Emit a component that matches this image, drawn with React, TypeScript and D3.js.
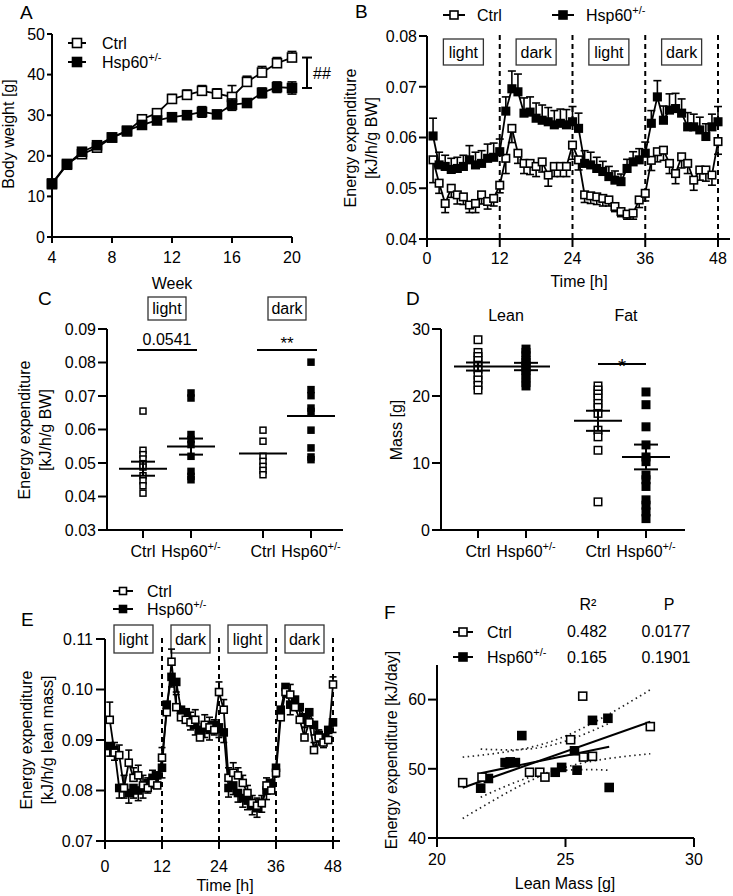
import React from 'react';
import * as d3 from 'd3';

const FONT = "'Liberation Sans', Arial, Helvetica, sans-serif";
const LETTER_FONT = "'Liberation Sans', Arial, sans-serif";

// ---------- Panel A: body weight ----------
const weeksA = [4, 5, 6, 7, 8, 9, 10, 11, 12, 13, 14, 15, 16, 17, 18, 19, 20];
const bwCtrl = [13.2, 18.0, 20.4, 22.0, 24.5, 26.0, 29.0, 30.5, 34.0, 35.0, 36.0, 35.3, 34.5, 38.2, 40.5, 42.8, 44.2];
const bwCtrlSem = [0.5, 0.6, 0.6, 0.7, 0.7, 0.8, 0.9, 1.0, 1.1, 1.2, 1.3, 1.2, 2.8, 1.4, 1.5, 1.4, 1.5];
const bwHsp = [13.0, 17.8, 21.0, 22.6, 24.5, 26.2, 27.6, 28.7, 29.5, 30.0, 30.8, 30.2, 32.6, 33.0, 35.5, 36.9, 36.7];
const bwHspSem = [0.5, 0.6, 0.6, 0.7, 0.7, 0.8, 0.8, 0.9, 0.8, 1.0, 1.3, 0.9, 1.4, 1.0, 1.2, 1.3, 1.5];
const weekTicks = [4, 8, 12, 16, 20];
const bwTicks = [0, 10, 20, 30, 40, 50];

// ---------- Panel B: energy expenditure per g BW ----------
const hoursB = d3.range(1, 49);
const eeCtrl = [
  0.0556, 0.0510, 0.0470, 0.0500, 0.0487, 0.0483, 0.0467, 0.0470, 0.0487, 0.0474, 0.0480, 0.0506,
  0.0559, 0.0618, 0.0569, 0.0549, 0.0549, 0.0543, 0.0552, 0.0526, 0.0543, 0.0543, 0.0543, 0.0585,
  0.0556, 0.0487, 0.0485, 0.0483, 0.0480, 0.0477, 0.0464, 0.0454, 0.0449, 0.0451, 0.0477, 0.0490,
  0.0555, 0.0572, 0.0575, 0.0549, 0.0529, 0.0562, 0.0549, 0.0516, 0.0536, 0.0536, 0.0526, 0.0592];
const eeCtrlSem = [
  0.0045, 0.0020, 0.0018, 0.0018, 0.0018, 0.0015, 0.0015, 0.0018, 0.0018, 0.0015, 0.0015, 0.0015,
  0.0030, 0.0028, 0.0020, 0.0020, 0.0022, 0.0020, 0.0020, 0.0022, 0.0020, 0.0020, 0.0020, 0.0028,
  0.0020, 0.0015, 0.0015, 0.0015, 0.0015, 0.0012, 0.0010, 0.0010, 0.0010, 0.0012, 0.0015, 0.0015,
  0.0020, 0.0020, 0.0020, 0.0020, 0.0020, 0.0022, 0.0020, 0.0020, 0.0020, 0.0022, 0.0020, 0.0025];
const eeHsp = [
  0.0603, 0.0546, 0.0543, 0.0537, 0.0539, 0.0543, 0.0556, 0.0546, 0.0549, 0.0559, 0.0561, 0.0572,
  0.0652, 0.0696, 0.0690, 0.0648, 0.0650, 0.0638, 0.0634, 0.0631, 0.0625, 0.0628, 0.0625, 0.0631,
  0.0618, 0.0549, 0.0546, 0.0539, 0.0533, 0.0523, 0.0516, 0.0513, 0.0539, 0.0552, 0.0556, 0.0569,
  0.0628, 0.0680, 0.0634, 0.0654, 0.0657, 0.0648, 0.0621, 0.0621, 0.0615, 0.0602, 0.0621, 0.0631];
const eeHspSem = [
  0.0035, 0.0025, 0.0022, 0.0022, 0.0022, 0.0022, 0.0028, 0.0025, 0.0025, 0.0028, 0.0028, 0.0025,
  0.0028, 0.0035, 0.0035, 0.0030, 0.0030, 0.0030, 0.0030, 0.0028, 0.0028, 0.0028, 0.0030, 0.0030,
  0.0030, 0.0025, 0.0025, 0.0022, 0.0020, 0.0020, 0.0018, 0.0015, 0.0018, 0.0020, 0.0022, 0.0022,
  0.0025, 0.0032, 0.0028, 0.0032, 0.0030, 0.0028, 0.0028, 0.0025, 0.0025, 0.0025, 0.0025, 0.0030];
const timeTicks = [0, 12, 24, 36, 48];
const phaseBounds = [12, 24, 36, 48];
const phaseCenters = [6, 18, 30, 42];
const phaseNames = ['light', 'dark', 'light', 'dark'];
const eeTicksB = [0.04, 0.05, 0.06, 0.07, 0.08];

// ---------- Panel C: mean EE per phase ----------
const cLightCtrl = [0.0655, 0.0538, 0.0525, 0.0512, 0.0498, 0.0488, 0.0462, 0.0447, 0.0432, 0.0410];
const cLightHsp = [0.0709, 0.0694, 0.0585, 0.0570, 0.0555, 0.0520, 0.0475, 0.0460, 0.0450];
const cDarkCtrl = [0.0598, 0.0565, 0.0520, 0.0505, 0.0490, 0.0478, 0.0465];
const cDarkHsp = [0.0801, 0.0719, 0.0701, 0.0664, 0.0654, 0.0598, 0.0545, 0.0518, 0.0510];
const cMeans = [0.0483, 0.0549, 0.0528, 0.0640];
const cSems = [0.0021, 0.0024, 0, 0];
const cTicks = [0.03, 0.04, 0.05, 0.06, 0.07, 0.08, 0.09];
const cPhases = ['light', 'dark'];
const cStats = ['0.0541', '**'];

// ---------- Panel D: body composition ----------
const dLeanCtrl = [28.4, 26.5, 25.9, 25.3, 24.6, 24.0, 23.1, 22.4, 21.6, 20.9];
const dLeanHsp = [27.0, 26.5, 26.0, 25.3, 25.0, 24.6, 24.2, 23.8, 23.3, 22.7, 22.0, 21.5];
const dFatCtrl = [21.5, 20.9, 20.3, 19.7, 18.9, 18.3, 17.4, 14.9, 13.9, 11.9, 4.2];
const dFatHsp = [20.6, 18.7, 15.4, 12.7, 10.9, 10.2, 8.2, 7.5, 6.5, 4.5, 3.7, 2.7, 1.7];
const dMeans = [24.4, 24.4, 16.3, 10.9];
const dSems = [0.6, 0.55, 1.5, 1.85];
const dTicks = [0, 10, 20, 30];
const dGroups = ['Lean', 'Fat'];

// ---------- Panel E: EE per g lean mass ----------
const eeLeanCtrl = [
  0.0940, 0.0875, 0.0870, 0.0805, 0.0855, 0.0825, 0.0830, 0.0810, 0.0805, 0.0815, 0.0810, 0.0865,
  0.0955, 0.1055, 0.0965, 0.0945, 0.0940, 0.0935, 0.0940, 0.0905, 0.0930, 0.0925, 0.0920, 0.0995,
  0.0960, 0.0825, 0.0835, 0.0830, 0.0815, 0.0795, 0.0775, 0.0770, 0.0775, 0.0810, 0.0800, 0.0835,
  0.0945, 0.0995, 0.0990, 0.0965, 0.0940, 0.0905, 0.0935, 0.0880, 0.0905, 0.0895, 0.0900, 0.1010];
const eeLeanCtrlSem = [
  0.0035, 0.0020, 0.0020, 0.0025, 0.0025, 0.0020, 0.0020, 0.0020, 0.0020, 0.0025, 0.0020, 0.0020,
  0.0020, 0.0025, 0.0025, 0.0020, 0.0020, 0.0020, 0.0020, 0.0020, 0.0020, 0.0020, 0.0020, 0.0020,
  0.0020, 0.0020, 0.0020, 0.0015, 0.0015, 0.0015, 0.0015, 0.0015, 0.0015, 0.0015, 0.0015, 0.0015,
  0.0020, 0.0015, 0.0020, 0.0020, 0.0020, 0.0020, 0.0015, 0.0015, 0.0015, 0.0015, 0.0015, 0.0015];
const eeLeanHsp = [
  0.0888, 0.0880, 0.0805, 0.0805, 0.0795, 0.0805, 0.0800, 0.0805, 0.0815, 0.0825, 0.0830, 0.0845,
  0.0970, 0.1025, 0.1015, 0.0960, 0.0955, 0.0940, 0.0930, 0.0920, 0.0925, 0.0920, 0.0930, 0.0925,
  0.0915, 0.0805, 0.0810, 0.0795, 0.0785, 0.0780, 0.0770, 0.0765, 0.0775, 0.0800, 0.0815, 0.0845,
  0.0960, 0.1005, 0.0970, 0.0980, 0.0965, 0.0945, 0.0955, 0.0930, 0.0910, 0.0905, 0.0920, 0.0935];
const eeLeanHspSem = [
  0.0020, 0.0020, 0.0020, 0.0020, 0.0020, 0.0020, 0.0020, 0.0020, 0.0020, 0.0020, 0.0020, 0.0020,
  0.0020, 0.0020, 0.0020, 0.0020, 0.0020, 0.0020, 0.0020, 0.0020, 0.0020, 0.0020, 0.0020, 0.0020,
  0.0020, 0.0018, 0.0018, 0.0018, 0.0018, 0.0018, 0.0018, 0.0018, 0.0018, 0.0018, 0.0018, 0.0018,
  0.0020, 0.0020, 0.0020, 0.0020, 0.0020, 0.0020, 0.0020, 0.0020, 0.0020, 0.0020, 0.0020, 0.0020];
const eeTicksE = [0.07, 0.08, 0.09, 0.10, 0.11];

// ---------- Panel F: regression ----------
const fCtrlLean = [21.0, 21.75, 23.6, 24.0, 24.2, 25.2, 25.67, 25.7, 26.05, 28.3];
const fCtrlEE = [48.0, 48.8, 49.5, 49.5, 48.8, 54.2, 60.5, 51.7, 51.8, 56.1];
const fHspLean = [21.7, 22.0, 22.65, 22.85, 23.05, 23.3, 24.6, 24.85, 25.35, 25.45, 26.05, 26.65, 26.7];
const fHspEE = [47.2, 48.6, 50.9, 51.0, 50.9, 54.8, 49.5, 50.2, 52.6, 49.8, 57.0, 57.3, 47.3];
const fR2 = ['0.482', '0.165'];
const fP = ['0.0177', '0.1901'];
const fTicksX = [20, 25, 30];
const fTicksY = [40, 50, 60];
const tCrit = [2.306, 2.201]; // df = 8, 11

// ---------- helpers ----------
const K = '#000';

function Sq({ x, y, s, filled, sw = 1.6 }: any) {
  return (
    <rect x={x - s / 2} y={y - s / 2} width={s} height={s}
      fill={filled ? K : '#fff'} stroke={K} strokeWidth={sw} />
  );
}

function Hsp({ x, y, size = 16, anchor = 'start', sup = 11 }: any) {
  return (
    <text x={x} y={y} fontSize={size} textAnchor={anchor} fontFamily={FONT} fill={K}>
      Hsp60<tspan dy={-size * 0.42} fontSize={sup}>+/-</tspan>
    </text>
  );
}

function LeftAxis({ scale, x, ticks, fmt, fs = 16, tl = 8, gap = 2 }: any) {
  const [r0, r1] = scale.range();
  return (
    <g>
      {ticks.map((t: number) => (
        <g key={t}>
          <line x1={x - tl} x2={x} y1={scale(t)} y2={scale(t)} stroke={K} strokeWidth={2} />
          <text x={x - tl - gap} y={scale(t)} dy="0.36em" textAnchor="end" fontSize={fs} fontFamily={FONT}>
            {fmt(t)}
          </text>
        </g>
      ))}
      <line x1={x} x2={x} y1={r0 + 1} y2={r1} stroke={K} strokeWidth={2} />
    </g>
  );
}

function BottomAxis({ scale, y, x0, x1, ticks, fmt, fs = 16, tl = 8, labelY }: any) {
  return (
    <g>
      <line x1={x0 - 1} x2={x1} y1={y} y2={y} stroke={K} strokeWidth={2} />
      {ticks.map((t: number) => (
        <g key={t}>
          <line x1={scale(t)} x2={scale(t)} y1={y} y2={y + tl} stroke={K} strokeWidth={2} />
          {fmt && (
            <text x={scale(t)} y={labelY} textAnchor="middle" fontSize={fs} fontFamily={FONT}>
              {fmt(t)}
            </text>
          )}
        </g>
      ))}
    </g>
  );
}

function YTitle({ x, y, lines, fs = 16, lh = 21 }: any) {
  return (
    <g>
      {lines.map((l: string, i: number) => (
        <text key={i} transform={`translate(${x + i * lh},${y}) rotate(-90)`} textAnchor="middle"
          fontSize={fs} fontFamily={FONT}>{l}</text>
      ))}
    </g>
  );
}

function Letter({ x, y, t }: any) {
  return <text x={x} y={y} fontSize={19} fontFamily={LETTER_FONT}>{t}</text>;
}

function LegendItem({ x, y, filled, label, w = 20, s = 8, fs = 16, gap = 13 }: any) {
  return (
    <g>
      <line x1={x} x2={x + w} y1={y} y2={y} stroke={K} strokeWidth={2} />
      <Sq x={x + w / 2} y={y} s={s} filled={filled} />
      {label === 'Hsp' ? <Hsp x={x + w + gap} y={y + 6} size={fs} /> :
        <text x={x + w + gap} y={y + 6} fontSize={fs} fontFamily={FONT}>{label}</text>}
    </g>
  );
}

function Series({ xs, ys, sems, x, y, filled, s, dir, cap = 4, sw = 1.8 }: any) {
  const line = d3.line<number>().x((_, i) => x(xs[i])).y(d => y(d));
  return (
    <g>
      <path d={line(ys) || ''} fill="none" stroke={K} strokeWidth={sw} />
      {ys.map((v: number, i: number) => {
        const e = sems[i] ?? 0;
        const cx = x(xs[i]);
        const els: any[] = [];
        if (dir === 'up' || dir === 'both') {
          els.push(<line key="u" x1={cx} x2={cx} y1={y(v)} y2={y(v + e)} stroke={K} strokeWidth={1.6} />);
          els.push(<line key="uc" x1={cx - cap} x2={cx + cap} y1={y(v + e)} y2={y(v + e)} stroke={K} strokeWidth={1.6} />);
        }
        if (dir === 'down' || dir === 'both') {
          els.push(<line key="d" x1={cx} x2={cx} y1={y(v)} y2={y(v - e)} stroke={K} strokeWidth={1.6} />);
          els.push(<line key="dc" x1={cx - cap} x2={cx + cap} y1={y(v - e)} y2={y(v - e)} stroke={K} strokeWidth={1.6} />);
        }
        return <g key={i}>{els}</g>;
      })}
      {ys.map((v: number, i: number) => (
        <Sq key={'m' + i} x={x(xs[i])} y={y(v)} s={s} filled={filled} />
      ))}
    </g>
  );
}

function PhaseBox({ cx, y0, h, w, label, fs }: any) {
  return (
    <g>
      <rect x={cx - w / 2} y={y0} width={w} height={h} fill="#fff" stroke="#333" strokeWidth={1.3} />
      <text x={cx} y={y0 + h / 2} dy="0.36em" textAnchor="middle" fontSize={fs} fontFamily={FONT}>{label}</text>
    </g>
  );
}

// ---------- Panels ----------
function PanelA() {
  const x = d3.scaleLinear().domain([4, 20]).range([52, 292]);
  const y = d3.scaleLinear().domain([0, 50]).range([237, 34]);
  const last = weeksA.length - 1;
  const bx = 307;
  return (
    <g>
      <Letter x={20} y={18.5} t="A" />
      <LeftAxis scale={y} x={52} ticks={bwTicks} fmt={(d: number) => d} tl={5} gap={2} />
      <BottomAxis scale={x} y={237} x0={52} x1={292} ticks={weekTicks} fmt={(d: number) => d} tl={6} labelY={263} />
      <text x={172} y={289} textAnchor="middle" fontSize={16} fontFamily={FONT}>Week</text>
      <YTitle x={13.5} y={134} lines={['Body weight [g]']} />
      <Series xs={weeksA} ys={bwCtrl} sems={bwCtrlSem} x={x} y={y} filled={false} s={9} dir="up" cap={4.5} />
      <Series xs={weeksA} ys={bwHsp} sems={bwHspSem} x={x} y={y} filled={true} s={9} dir="both" cap={4.5} />
      <LegendItem x={68} y={43} filled={false} label="Ctrl" w={18} s={9} gap={16} />
      <LegendItem x={68} y={62} filled={true} label="Hsp" w={18} s={9} gap={16} />
      <line x1={bx} x2={bx} y1={y(bwCtrl[last])} y2={y(bwHsp[last])} stroke={K} strokeWidth={2} />
      <line x1={bx - 5} x2={bx + 5} y1={y(bwCtrl[last])} y2={y(bwCtrl[last])} stroke={K} strokeWidth={2} />
      <line x1={bx - 5} x2={bx + 5} y1={y(bwHsp[last])} y2={y(bwHsp[last])} stroke={K} strokeWidth={2} />
      <text x={313} y={79} fontSize={16} fontFamily={FONT}>##</text>
    </g>
  );
}

function PanelB() {
  const x = d3.scaleLinear().domain([0, 48]).range([427, 718]);
  const y = d3.scaleLinear().domain([0.04, 0.08]).range([239, 36]);
  return (
    <g>
      <Letter x={355} y={18} t="B" />
      <LegendItem x={443} y={15} filled={false} label="Ctrl" w={22} s={8} gap={12} />
      <LegendItem x={552} y={15} filled={true} label="Hsp" w={22} s={8} gap={12} />
      {phaseBounds.map(h => (
        <line key={h} x1={x(h)} x2={x(h)} y1={35} y2={239} stroke={K} strokeWidth={2} strokeDasharray="5,4" />
      ))}
      {phaseCenters.map((h, i) => (
        <PhaseBox key={i} cx={x(h)} y0={39} h={26} w={40} label={phaseNames[i]} fs={16} />
      ))}
      <Series xs={hoursB} ys={eeCtrl} sems={eeCtrlSem} x={x} y={y} filled={false} s={7.5} dir="down" cap={4} />
      <Series xs={hoursB} ys={eeHsp} sems={eeHspSem} x={x} y={y} filled={true} s={7.5} dir="up" cap={4} />
      <LeftAxis scale={y} x={427} ticks={eeTicksB} fmt={d3.format('.2f')} tl={8} gap={2} />
      <BottomAxis scale={x} y={239} x0={427} x1={730} ticks={timeTicks} fmt={(d: number) => d} tl={8} labelY={264} />
      <text x={579} y={287} textAnchor="middle" fontSize={16} fontFamily={FONT}>Time [h]</text>
      <YTitle x={356} y={138} lines={['Energy expenditure', '[kJ/h/g BW]']} lh={21} />
    </g>
  );
}

function DotGroup({ vals, cx, y, filled, s }: any) {
  return <g>{vals.map((v: number, i: number) => <Sq key={i} x={cx} y={y(v)} s={s} filled={filled} sw={1.5} />)}</g>;
}

function MeanSem({ cx, y, mean, sem }: any) {
  return (
    <g stroke={K} strokeWidth={2}>
      <line x1={cx - 24} x2={cx + 24} y1={y(mean)} y2={y(mean)} />
      {sem > 0 && (
        <g>
          <line x1={cx} x2={cx} y1={y(mean - sem)} y2={y(mean + sem)} />
          <line x1={cx - 12} x2={cx + 12} y1={y(mean + sem)} y2={y(mean + sem)} />
          <line x1={cx - 12} x2={cx + 12} y1={y(mean - sem)} y2={y(mean - sem)} />
        </g>
      )}
    </g>
  );
}

function PanelC() {
  const y = d3.scaleLinear().domain([0.03, 0.09]).range([530, 329]);
  const xp = d3.scaleLinear().domain([0, 1]).range([143, 191]);
  const pos = [0, 1, 2.5, 3.5];
  const groups = [cLightCtrl, cLightHsp, cDarkCtrl, cDarkHsp];
  return (
    <g>
      <Letter x={38} y={305} t="C" />
      <LeftAxis scale={y} x={107} ticks={cTicks} fmt={d3.format('.2f')} tl={9} gap={2} />
      <BottomAxis scale={(p: number) => xp(p)} y={530} x0={107} x1={343} ticks={pos} fmt={null} tl={8} />
      {pos.map((p, i) => (i % 2 === 0 ?
        <text key={i} x={xp(p)} y={557} textAnchor="middle" fontSize={16} fontFamily={FONT}>Ctrl</text> :
        <Hsp key={i} x={xp(p)} y={557} anchor="middle" />))}
      {cPhases.map((ph, i) => {
        const cx = (xp(pos[2 * i]) + xp(pos[2 * i + 1])) / 2;
        return (
          <g key={ph}>
            <PhaseBox cx={cx} y0={297} h={23} w={38} label={ph} fs={16} />
            <line x1={cx - 30} x2={cx + 30} y1={350} y2={350} stroke={K} strokeWidth={2} />
            <text x={cx} y={i === 0 ? 345 : 349} textAnchor="middle" fontSize={i === 0 ? 16 : 17} fontFamily={FONT}>{cStats[i]}</text>
          </g>
        );
      })}
      {groups.map((g, i) => (
        <g key={i}>
          <DotGroup vals={g} cx={xp(pos[i])} y={y} filled={i % 2 === 1} s={6} />
          <MeanSem cx={xp(pos[i])} y={y} mean={cMeans[i]} sem={cSems[i]} />
        </g>
      ))}
      <YTitle x={29.5} y={430} lines={['Energy expenditure', '[kJ/h/g BW]']} lh={21} />
      <LegendItem x={113} y={591} filled={false} label="Ctrl" w={20} s={7} gap={14} />
      <LegendItem x={113} y={609} filled={true} label="Hsp" w={20} s={7} gap={14} />
    </g>
  );
}

function PanelD() {
  const y = d3.scaleLinear().domain([0, 30]).range([530, 329]);
  const xp = d3.scaleLinear().domain([0, 1]).range([478, 526]);
  const pos = [0, 1, 2.5, 3.5];
  const groups = [dLeanCtrl, dLeanHsp, dFatCtrl, dFatHsp];
  return (
    <g>
      <Letter x={406} y={305} t="D" />
      <LeftAxis scale={y} x={441} ticks={dTicks} fmt={(d: number) => d} fs={16} tl={9} gap={2} />
      <BottomAxis scale={(p: number) => xp(p)} y={530} x0={441} x1={685} ticks={pos} fmt={null} tl={8} />
      {pos.map((p, i) => (i % 2 === 0 ?
        <text key={i} x={xp(p)} y={557} textAnchor="middle" fontSize={16} fontFamily={FONT}>Ctrl</text> :
        <Hsp key={i} x={xp(p)} y={557} anchor="middle" />))}
      {dGroups.map((g, i) => (
        <text key={g} x={(xp(pos[2 * i]) + xp(pos[2 * i + 1])) / 2 + 4} y={321} textAnchor="middle" fontSize={16} fontFamily={FONT}>{g}</text>
      ))}
      <line x1={xp(2.5)} x2={xp(3.5)} y1={364} y2={364} stroke={K} strokeWidth={2} />
      <text x={(xp(2.5) + xp(3.5)) / 2} y={373} textAnchor="middle" fontSize={21} fontFamily={FONT}>*</text>
      {groups.map((g, i) => (
        <g key={i}>
          <DotGroup vals={g} cx={xp(pos[i])} y={y} filled={i % 2 === 1} s={7.5} />
          <MeanSem cx={xp(pos[i])} y={y} mean={dMeans[i]} sem={dSems[i]} />
        </g>
      ))}
      <YTitle x={402} y={430} lines={['Mass [g]']} fs={16} />
    </g>
  );
}

function PanelE() {
  const x = d3.scaleLinear().domain([0, 48]).range([105, 333]);
  const y = d3.scaleLinear().domain([0.07, 0.11]).range([841, 639]);
  return (
    <g>
      <Letter x={21} y={626} t="E" />
      {phaseBounds.map(h => (
        <line key={h} x1={x(h)} x2={x(h)} y1={638} y2={841} stroke={K} strokeWidth={2} strokeDasharray="5,4" />
      ))}
      {phaseCenters.map((h, i) => (
        <PhaseBox key={i} cx={x(h)} y0={625} h={28} w={39} label={phaseNames[i]} fs={16} />
      ))}
      <Series xs={hoursB} ys={eeLeanHsp} sems={eeLeanHspSem} x={x} y={y} filled={true} s={7} dir="down" cap={3.5} />
      <Series xs={hoursB} ys={eeLeanCtrl} sems={eeLeanCtrlSem} x={x} y={y} filled={false} s={7} dir="up" cap={3.5} />
      <LeftAxis scale={y} x={105} ticks={eeTicksE} fmt={d3.format('.2f')} fs={16} tl={9} gap={3} />
      <BottomAxis scale={x} y={841} x0={105} x1={340} ticks={timeTicks} fmt={(d: number) => d} fs={16} tl={8} labelY={872} />
      <text x={225} y={891} textAnchor="middle" fontSize={16} fontFamily={FONT}>Time [h]</text>
      <YTitle x={32} y={740} lines={['Energy expenditure', '[kJ/h/g lean mass]']} fs={16} lh={21} />
    </g>
  );
}

function regression(xs: number[], ys: number[], t: number) {
  const n = xs.length;
  const mx = d3.mean(xs) as number;
  const my = d3.mean(ys) as number;
  const sxx = d3.sum(xs, v => (v - mx) ** 2);
  const sxy = d3.sum(xs.map((v, i) => (v - mx) * (ys[i] - my)));
  const b = sxy / sxx;
  const a = my - b * mx;
  const sse = d3.sum(xs.map((v, i) => (ys[i] - (a + b * v)) ** 2));
  const s = Math.sqrt(sse / (n - 2));
  const [x0, x1] = d3.extent(xs) as [number, number];
  const grid = d3.range(0, 41).map(k => x0 + (x1 - x0) * k / 40);
  const hw = (v: number) => t * s * Math.sqrt(1 / n + (v - mx) ** 2 / sxx);
  return {
    line: [[x0, a + b * x0], [x1, a + b * x1]],
    upper: grid.map(v => [v, a + b * v + hw(v)]),
    lower: grid.map(v => [v, a + b * v - hw(v)]),
  };
}

function PanelF() {
  const x = d3.scaleLinear().domain([20, 30]).range([437, 694]);
  const y = d3.scaleLinear().domain([40, 65]).range([838, 665]);
  const ln = d3.line<number[]>().x(d => x(d[0])).y(d => y(d[1]));
  const regs = [regression(fCtrlLean, fCtrlEE, tCrit[0]), regression(fHspLean, fHspEE, tCrit[1])];
  return (
    <g>
      <Letter x={384} y={619} t="F" />
      <text x={588} y={610} textAnchor="middle" fontSize={16} fontFamily={FONT}>R²</text>
      <text x={669} y={610} textAnchor="middle" fontSize={16} fontFamily={FONT}>P</text>
      <LegendItem x={453} y={632} filled={false} label="Ctrl" w={20} s={8} gap={14} />
      <LegendItem x={453} y={657} filled={true} label="Hsp" w={20} s={8} gap={14} />
      {fR2.map((r, i) => (
        <g key={i}>
          <text x={587} y={637 + i * 26} textAnchor="middle" fontSize={16} fontFamily={FONT}>{r}</text>
          <text x={666} y={637 + i * 26} textAnchor="middle" fontSize={16} fontFamily={FONT}>{fP[i]}</text>
        </g>
      ))}
      {regs.map((r, i) => (
        <g key={i}>
          <path d={ln(r.upper) || ''} fill="none" stroke="#222" strokeWidth={1.7} strokeDasharray="1.5,3.5" />
          <path d={ln(r.lower) || ''} fill="none" stroke="#222" strokeWidth={1.7} strokeDasharray="1.5,3.5" />
          <path d={ln(r.line) || ''} fill="none" stroke={K} strokeWidth={2} />
        </g>
      ))}
      {fHspLean.map((v, i) => <Sq key={'h' + i} x={x(v)} y={y(fHspEE[i])} s={8} filled={true} />)}
      {fCtrlLean.map((v, i) => <Sq key={'c' + i} x={x(v)} y={y(fCtrlEE[i])} s={8} filled={false} />)}
      <LeftAxis scale={y} x={437} ticks={fTicksY} fmt={(d: number) => d} tl={9} gap={2} />
      <BottomAxis scale={x} y={838} x0={437} x1={694} ticks={fTicksX} fmt={(d: number) => d} tl={9} labelY={865} />
      <text x={565} y={889} textAnchor="middle" fontSize={16} fontFamily={FONT}>Lean Mass [g]</text>
      <YTitle x={397} y={750} lines={['Energy expenditure [kJ/day]']} />
    </g>
  );
}

export default function App() {
  return (
    <svg width={733} height={896} viewBox="0 0 733 896"
      style={{ position: 'absolute', left: 0, top: 0, background: '#fff' }} fontFamily={FONT}>
      <rect width={733} height={896} fill="#fff" />
      <PanelA />
      <PanelB />
      <PanelC />
      <PanelD />
      <PanelE />
      <PanelF />
    </svg>
  );
}
